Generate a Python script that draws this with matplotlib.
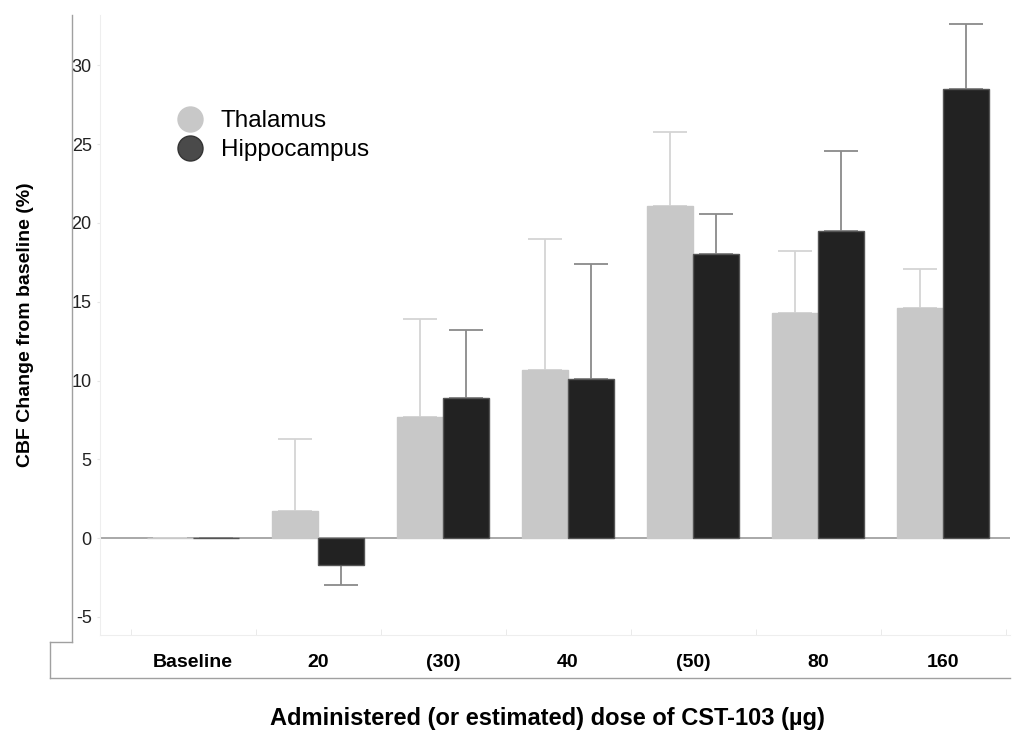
import matplotlib.pyplot as plt
from matplotlib.lines import Line2D

plt.rcParams['font.family'] = ['Liberation Sans', 'DejaVu Sans']
plt.rcParams['axes.unicode_minus'] = False

doses = ["Baseline", "20", "(30)", "40", "(50)", "80", "160"]
thalamus = [0, 1.7, 7.7, 10.7, 21.1, 14.3, 14.6]
thalamus_err = [0, 4.6, 6.2, 8.3, 4.7, 3.9, 2.5]
hippocampus = [0, -1.7, 8.9, 10.1, 18.0, 19.5, 28.5]
hippocampus_err = [0, 1.3, 4.3, 7.3, 2.6, 5.1, 4.1]

W, H = 1024, 732
fig = plt.figure(figsize=(W / 100, H / 100), dpi=100)
ax = fig.add_axes([100 / W, 1 - 635 / H, 910 / W, 620 / H])

x = list(range(len(doses)))
bw = 0.37
xt = [i - bw / 2 for i in x]
xh = [i + bw / 2 for i in x]

# error bars only on the side the bar points to
t_lo = [e if v < 0 else 0 for v, e in zip(thalamus, thalamus_err)]
t_hi = [e if v >= 0 else 0 for v, e in zip(thalamus, thalamus_err)]
h_lo = [e if v < 0 else 0 for v, e in zip(hippocampus, hippocampus_err)]
h_hi = [e if v >= 0 else 0 for v, e in zip(hippocampus, hippocampus_err)]

ax.axhline(0, color='#9a9a9a', lw=1.2, zorder=1)
ax.bar(xt, thalamus, bw, color='#c8c8c8', edgecolor='#c8c8c8', lw=1, zorder=2)
ax.bar(xh, hippocampus, bw, color='#222222', edgecolor='#555555', lw=1, zorder=2)
ax.errorbar(xt, thalamus, yerr=[t_lo, t_hi], fmt='none', ecolor='#d4d4d4',
            elinewidth=1.3, capsize=12, capthick=1.3, zorder=1)
ax.errorbar(xh, hippocampus, yerr=[h_lo, h_hi], fmt='none', ecolor='#8a8a8a',
            elinewidth=1.3, capsize=12, capthick=1.3, zorder=1)

ax.set_xlim(-0.744, 6.536)
ax.set_ylim(-6.15, 33.2)
ax.set_yticks([-5, 0, 5, 10, 15, 20, 25, 30])
ax.set_xticks(x)
ax.set_xticklabels(doses, fontsize=14, fontweight='bold')
ax.set_xticks([i + 0.5 for i in range(-1, 7)], minor=True)
ax.tick_params(axis='x', which='major', length=0, pad=14)
ax.tick_params(axis='x', which='minor', length=4, color='#e6e6e6', direction='in')
ax.tick_params(axis='y', length=2, color='#e6e6e6', labelsize=13, labelcolor='#222222', pad=4)
for s in ['top', 'right']:
    ax.spines[s].set_visible(False)
ax.spines['left'].set_color('#eeeeee')
ax.spines['bottom'].set_color('#eeeeee')

handles = [Line2D([], [], ls='none', marker='o', ms=18, mfc='#c8c8c8', mec='#c8c8c8'),
           Line2D([], [], ls='none', marker='o', ms=18, mfc='#4a4a4a', mec='#333333')]
ax.legend(handles, ['Thalamus', 'Hippocampus'], loc='upper left',
          bbox_to_anchor=(0.0725, 0.866), frameon=False, fontsize=17.5,
          handlelength=1.0, handletextpad=0.75, labelspacing=0.28, borderpad=0)

ax.set_ylabel('CBF Change from baseline (%)', fontsize=14, fontweight='bold')
ax.yaxis.set_label_coords(-66 / 910, 0.5)
fig.text(547 / W, 1 - 718 / H, 'Administered (or estimated) dose of CST-103 (µg)',
         ha='center', va='center', fontsize=17, fontweight='bold')

# outer frame lines around tick label area
def fline(xs, ys):
    fig.add_artist(Line2D([v / W for v in xs], [1 - v / H for v in ys],
                          color='#a0a0a0', lw=1))

fline([72, 72], [15, 642])
fline([50, 72], [642, 642])
fline([50, 50], [642, 678])
fline([50, 1010], [678, 678])

fig.savefig('out.png', dpi=100)
